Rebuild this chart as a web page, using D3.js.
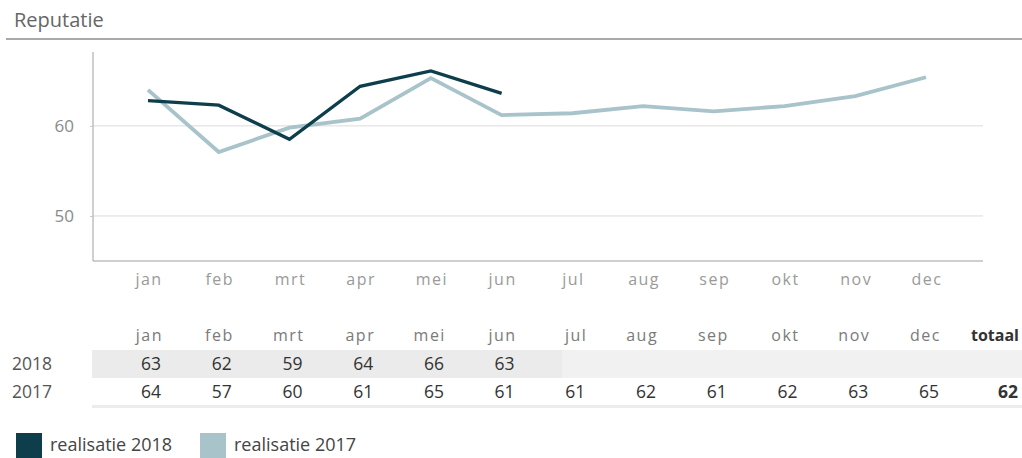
<!DOCTYPE html>
<html>
<head>
<meta charset="utf-8">
<script src="https://cdn.jsdelivr.net/npm/d3@7"></script>
<style>
  body { margin: 0; background: #fff; }
  svg { display: block; font-family: 'Open Sans', sans-serif; }
</style>
</head>
<body>
<svg id="chart" width="1022" height="458"></svg>
<script>
(function reputatieChart() {
  const MONTHS = ['jan', 'feb', 'mrt', 'apr', 'mei', 'jun', 'jul', 'aug', 'sep', 'okt', 'nov', 'dec'];
  // plotted values
  const LINE_2018 = [62.8, 62.3, 58.5, 64.4, 66.1, 63.6];
  const LINE_2017 = [64.0, 57.1, 59.8, 60.8, 65.3, 61.2, 61.4, 62.2, 61.6, 62.2, 63.3, 65.4];
  // table values
  const TABLE_2018 = [63, 62, 59, 64, 66, 63];
  const TABLE_2017 = [64, 57, 60, 61, 65, 61, 61, 62, 61, 62, 63, 65];
  const TOTAL_2017 = 62;
  const Y_TICKS = [50, 60];
  const SERIES = ['realisatie 2018', 'realisatie 2017'];
  const COLORS = ['#0e3e4b', '#a8c3c9'];

  const svg = d3.select('#chart');

  // title + rule
  svg.append('text').attr('x', 14).attr('y', 27)
    .attr('font-size', 20).attr('fill', '#666').text('Reputatie');
  svg.append('line').attr('x1', 6).attr('x2', 1022).attr('y1', 39).attr('y2', 39)
    .attr('stroke', '#8c8c8c').attr('stroke-width', 1.5);

  const plotLeft = 93, plotRight = 983, plotTop = 52, plotBottom = 261;

  const x = d3.scalePoint().domain(MONTHS).range([148, 926]);
  const y = d3.scaleLinear().domain([45, 68.2]).range([plotBottom, plotTop]);

  // gridlines
  svg.append('g').selectAll('line').data(Y_TICKS).join('line')
    .attr('x1', plotLeft).attr('x2', plotRight)
    .attr('y1', d => y(d)).attr('y2', d => y(d))
    .attr('stroke', '#dcdcdc').attr('stroke-width', 1);

  // y axis
  const yAxis = d3.axisLeft(y).tickValues(Y_TICKS).tickSize(3).tickPadding(16);
  svg.append('g')
    .attr('transform', `translate(${plotLeft},0)`)
    .call(yAxis)
    .call(g => g.select('.domain').attr('stroke', '#a0a0a0').attr('d', `M0,${plotTop}V${plotBottom}`))
    .call(g => g.selectAll('line').attr('stroke', '#c8c8c8'))
    .call(g => g.selectAll('text').attr('fill', '#8a8a8a').attr('font-size', 17)
      .attr('font-family', "'Open Sans', sans-serif"));

  // x axis
  svg.append('line').attr('x1', plotLeft).attr('x2', plotRight)
    .attr('y1', plotBottom).attr('y2', plotBottom)
    .attr('stroke', '#a0a0a0').attr('stroke-width', 1);
  svg.append('g').selectAll('text').data(MONTHS).join('text')
    .attr('x', d => x(d) + 1).attr('y', 285)
    .attr('text-anchor', 'middle').attr('font-size', 16)
    .attr('letter-spacing', 1.5)
    .attr('fill', '#9a9a9a').text(d => d);

  // lines
  const line = d3.line().x(d => x(d.m)).y(d => y(d.v));
  const data2017 = LINE_2017.map((v, i) => ({ m: MONTHS[i], v }));
  const data2018 = LINE_2018.map((v, i) => ({ m: MONTHS[i], v }));

  svg.append('path').datum(data2017)
    .attr('d', line).attr('fill', 'none')
    .attr('stroke', COLORS[1]).attr('stroke-width', 3.8)
    .attr('stroke-linejoin', 'miter');
  svg.append('path').datum(data2018)
    .attr('d', line).attr('fill', 'none')
    .attr('stroke', COLORS[0]).attr('stroke-width', 3.4)
    .attr('stroke-linejoin', 'miter');

  // table
  const colRight = m => x(m) + 15;
  const totalRight = 1019;

  // 2018 row background
  svg.append('rect').attr('x', 92).attr('y', 350).attr('width', 930).attr('height', 28)
    .attr('fill', '#f1f1f1');
  svg.append('rect').attr('x', 92).attr('y', 350).attr('width', 470).attr('height', 28)
    .attr('fill', '#ebebeb');
  // 2017 row bottom rule
  svg.append('rect').attr('x', 92).attr('y', 405).attr('width', 930).attr('height', 3)
    .attr('fill', '#ececec');

  const table = svg.append('g').attr('font-size', 17.5);

  table.selectAll('text.hdr').data(MONTHS).join('text')
    .attr('class', 'hdr')
    .attr('x', d => colRight(d)).attr('y', 341)
    .attr('text-anchor', 'end').attr('letter-spacing', 1.5)
    .attr('font-size', 16)
    .attr('fill', '#7a7a7a').text(d => d);
  table.append('text').attr('x', totalRight).attr('y', 341)
    .attr('text-anchor', 'end').attr('font-weight', 'bold')
    .attr('font-size', 16)
    .attr('fill', '#333').text('totaal');

  table.append('text').attr('x', 12).attr('y', 370).attr('fill', '#555').text('2018');
  table.append('text').attr('x', 12).attr('y', 398).attr('fill', '#555').text('2017');

  table.selectAll('text.r18').data(TABLE_2018).join('text')
    .attr('class', 'r18')
    .attr('x', (d, i) => colRight(MONTHS[i]) - 2).attr('y', 370)
    .attr('text-anchor', 'end').attr('fill', '#333').text(d => d);
  table.selectAll('text.r17').data(TABLE_2017).join('text')
    .attr('class', 'r17')
    .attr('x', (d, i) => colRight(MONTHS[i]) - 2).attr('y', 398)
    .attr('text-anchor', 'end').attr('fill', '#333').text(d => d);
  table.append('text').attr('x', totalRight - 1).attr('y', 398)
    .attr('text-anchor', 'end').attr('font-weight', 'bold')
    .attr('fill', '#333').text(TOTAL_2017);

  // legend
  const legendX = [16, 200];
  const legend = svg.append('g').selectAll('g').data(SERIES).join('g')
    .attr('transform', (d, i) => `translate(${legendX[i]},433)`);
  legend.append('rect').attr('width', 26).attr('height', 25)
    .attr('fill', (d, i) => COLORS[i]);
  legend.append('text').attr('x', 34).attr('y', 18)
    .attr('font-size', 18).attr('fill', '#444').text(d => d);
})();
</script>
</body>
</html>
